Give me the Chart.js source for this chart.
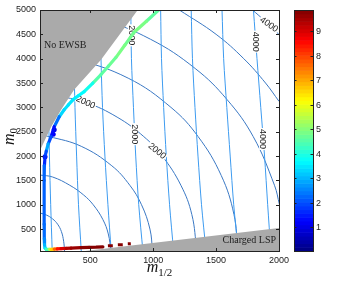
<!DOCTYPE html>
<html>
<head>
<meta charset="utf-8">
<script src="https://cdn.jsdelivr.net/npm/chart.js@4.4.1/dist/chart.umd.min.js"></script>
<style>
  html, body { margin: 0; padding: 0; background: #fff; }
  #wrap { width: 338px; height: 282px; }
</style>
</head>
<body>
<div id="wrap"><canvas id="chart" width="338" height="282"></canvas></div>
<script>
// axes
const xTicks = [500, 1000, 1500, 2000];
const yTicks = [500, 1000, 1500, 2000, 2500, 3000, 3500, 4000, 4500, 5000];
const cbTicks = [1, 2, 3, 4, 5, 6, 7, 8, 9];
const cbMin = 0.04;
const cbMax = 9.86;

// near-vertical contours (m1/2 read at each m0 level)
const gluinoM0 = [5000, 4000, 3000, 2000, 1000, 50];
const gluino500 = [160, 163, 168, 175, 185, 197];
const gluino1000 = [366, 370, 378, 391, 406, 428];
const gluino1500 = [580, 585, 597, 616, 640, 666];
const gluino2000 = [822, 827, 843, 861, 885, 918];
const gluino2500 = [1059, 1066, 1083, 1104, 1130, 1162];
const gluino3000 = [1302, 1312, 1332, 1356, 1384, 1420];
const gluino3500 = [1547, 1560, 1585, 1612, 1640, 1676];
const gluino4000 = [1797, 1825, 1855, 1885, 1910, 1935];

// arc contours
const arc500X = [100, 150, 200, 240, 270, 288, 295];
const arc500Y = [830, 790, 710, 600, 450, 250, 50];
const arc1000X = [100, 200, 337, 447, 523, 599, 643, 663];
const arc1000Y = [1610, 1570, 1400, 1200, 1000, 700, 400, 50];
const arc1500X = [100, 173, 428, 671, 814, 907, 974, 995];
const arc1500Y = [2425, 2400, 2200, 1800, 1400, 1000, 500, 50];
const arc2000X = [100, 147, 462, 713, 925, 1072, 1220, 1307, 1347];
const arc2000Y = [3290, 3280, 3100, 2800, 2400, 2000, 1400, 800, 50];
const arc2500X = [100, 367, 801, 1141, 1357, 1541, 1642, 1673];
const arc2500Y = [4093, 4000, 3600, 3000, 2400, 1600, 800, 50];
const arc3000X = [129, 586, 978, 1333, 1587, 1795, 1964, 2004];
const arc3000Y = [5000, 4800, 4400, 3800, 3160, 2400, 1400, 1000];
const arc3500X = [1208, 1500, 1720, 1893, 2000];
const arc3500Y = [5000, 4500, 4000, 3500, 3124];
const arc4000X = [1789, 1834, 1899, 2000];
const arc4000Y = [5000, 4900, 4750, 4496];

// excluded regions
const ewsbX = [100, 110, 189, 268, 371, 585, 877];
const ewsbY = [2130, 2170, 2600, 2950, 3361, 3978, 5000];
const lspX = [458, 2000];
const lspY = [50, 520];

// allowed points, colour value
const focusX = [1043, 946, 846, 775, 703, 645, 585, 520, 451, 405, 363, 325, 292, 253, 213, 189, 165, 150, 140, 135, 133, 133, 133, 134, 136, 140, 150,
  174, 189, 213, 237, 268, 308, 347, 426, 490, 545, 600];
const focusY = [5000, 4770, 4537, 4280, 4023, 3850, 3674, 3500, 3324, 3240, 3159, 3050, 2952, 2808, 2603, 2398, 2250, 2100, 1987, 1800, 1500, 1000, 600, 300, 180, 110, 85,
  85, 85, 90, 95, 100, 105, 110, 120, 126, 128, 135];
const focusV = [4.6, 4.7, 5.1, 4.5, 5.3, 4.2, 5.1, 4.0, 3.8, 3.6, 3.6, 3.4, 3.5, 3.2, 1.5, 1.2, 2.8, 3.0, 1.0, 2.3, 2.2, 2.2, 2.2, 2.4, 2.8, 3.2, 3.8,
  5.0, 6.0, 7.2, 8.2, 8.8, 9.2, 9.5, 9.7, 9.8, 9.8, 9.8];
const stauX = [640, 679, null, 719, 758, null, 798, 822];
const stauY = [157, 160, null, 177, 180, null, 198, 200];
const stauV = [9.8, 9.8, null, 9.8, 9.8, null, 9.8, 9.8];
const blobX = [140, 205, 213];
const blobY = [1987, 2450, 2540];
const blobV = [0.9, 1.2, 1.0];

const contourLabels = [
  { t: "2000", x: 462, y: 3100, a: 25 },
  { t: "2000", x: 1030, y: 2100, a: 40 },
  { t: "2000", x: 852, y: 2450, a: 90 },
  { t: "2000", x: 825, y: 4480, a: 90 },
  { t: "4000", x: 1920, y: 4700, a: 35 },
  { t: "4000", x: 1815, y: 4350, a: 90 },
  { t: "4000", x: 1870, y: 2350, a: 90 },
];

function jet(v) {
  const t = (v - cbMin) / (cbMax - cbMin);
  const c = (o) => Math.round(255 * Math.max(0, Math.min(1, 1.5 - Math.abs(4 * t - o))));
  return `rgb(${c(3)},${c(2)},${c(1)})`;
}

const pts = (xs, ys) => xs.map((x, i) => ({ x: x, y: ys[i] }));

const lightBlue = "#3d9bf0";
const darkBlue = "#3a78c4";
const datasets = [];

[gluino500, gluino1000, gluino1500, gluino2000, gluino2500, gluino3000, gluino3500, gluino4000].forEach((xs) => {
  datasets.push({ data: pts(xs, gluinoM0), borderColor: lightBlue, borderWidth: 1, pointRadius: 0, showLine: true, tension: 0.3, order: 3 });
});
[[arc500X, arc500Y], [arc1000X, arc1000Y], [arc1500X, arc1500Y], [arc2000X, arc2000Y], [arc2500X, arc2500Y],
 [arc3000X, arc3000Y], [arc3500X, arc3500Y], [arc4000X, arc4000Y]].forEach(([xs, ys]) => {
  datasets.push({ data: pts(xs, ys), borderColor: darkBlue, borderWidth: 1, pointRadius: 0, showLine: true, tension: 0.4, order: 3 });
});

datasets.push({ data: pts(ewsbX, ewsbY), borderColor: "#aaaaaa", borderWidth: 0, backgroundColor: "#aaaaaa", fill: "end", pointRadius: 0, showLine: true, order: 2 });
datasets.push({ data: pts(lspX, lspY), borderColor: "#aaaaaa", borderWidth: 0, backgroundColor: "#aaaaaa", fill: "start", pointRadius: 0, showLine: true, order: 2 });

datasets.push({
  data: pts(focusX, focusY), showLine: true, pointRadius: 0, borderWidth: 3.2, borderCapStyle: "round", borderJoinStyle: "round", order: 0,
  segment: { borderColor: (ctx) => jet((focusV[ctx.p0DataIndex] + focusV[ctx.p1DataIndex]) / 2) },
});
datasets.push({
  data: pts(stauX, stauY), showLine: true, spanGaps: false, pointRadius: 0, borderWidth: 3, borderCapStyle: "butt", order: 0,
  segment: { borderColor: (ctx) => jet(stauV[ctx.p0DataIndex]) },
});
datasets.push({
  data: pts(blobX, blobY), showLine: false, pointRadius: 2.5, borderWidth: 0, order: 0,
  pointBackgroundColor: blobV.map(jet),
});

const tickFont = '9px "Liberation Sans", Arial, sans-serif';

const decor = {
  id: "decor",
  beforeDatasetsDraw() { this._labelsDone = false; },
  beforeDatasetDraw(chart, args) {
    if (this._labelsDone || args.meta.order !== 0) return;
    this._labelsDone = true;
    const ctx = chart.ctx, xs = chart.scales.x, ys = chart.scales.y;
    ctx.save();
    ctx.font = '9px "Liberation Sans", Arial, sans-serif';
    ctx.textAlign = "center";
    ctx.textBaseline = "middle";
    contourLabels.forEach((l) => {
      ctx.save();
      ctx.translate(xs.getPixelForValue(l.x), ys.getPixelForValue(l.y));
      ctx.rotate((l.a * Math.PI) / 180);
      const w = ctx.measureText(l.t).width;
      ctx.fillStyle = "#fff";
      ctx.fillRect(-w / 2 - 1, -3.5, w + 2, 7);
      ctx.fillStyle = "#222";
      ctx.fillText(l.t, 0, 0);
      ctx.restore();
    });
    ctx.restore();
  },
  afterDraw(chart) {
    const ctx = chart.ctx, ca = chart.chartArea;
    const xs = chart.scales.x, ys = chart.scales.y, cs = chart.scales.c;
    ctx.save();
    // region names
    ctx.fillStyle = "#222";
    ctx.font = '10px "Liberation Serif", "Times New Roman", serif';
    ctx.textBaseline = "alphabetic";
    ctx.textAlign = "left";
    ctx.fillText("No EWSB", ca.left + 4, ca.top + 38);
    ctx.textAlign = "right";
    ctx.fillText("Charged LSP", ca.right - 3, ca.bottom - 8);

    // box and inward ticks
    ctx.strokeStyle = "#222";
    ctx.lineWidth = 1;
    ctx.strokeRect(Math.round(ca.left) + 0.5, Math.round(ca.top) + 0.5, Math.round(ca.right - ca.left), Math.round(ca.bottom - ca.top));
    ctx.beginPath();
    xTicks.forEach((v) => {
      const px = Math.round(xs.getPixelForValue(v)) + 0.5;
      ctx.moveTo(px, ca.bottom); ctx.lineTo(px, ca.bottom - 3);
      ctx.moveTo(px, ca.top); ctx.lineTo(px, ca.top + 3);
    });
    yTicks.forEach((v) => {
      const py = Math.round(ys.getPixelForValue(v)) + 0.5;
      ctx.moveTo(ca.left, py); ctx.lineTo(ca.left + 3, py);
      ctx.moveTo(ca.right, py); ctx.lineTo(ca.right - 3, py);
    });
    ctx.stroke();

    // axis titles
    ctx.fillStyle = "#111";
    const mFont = 'italic 16px "Liberation Serif", "Times New Roman", serif';
    const subFont = '11px "Liberation Serif", "Times New Roman", serif';
    ctx.font = mFont;
    const mw = ctx.measureText("m").width;
    ctx.font = subFont;
    const sw = ctx.measureText("1/2").width;
    let x0 = (ca.left + ca.right) / 2 - (mw + sw) / 2;
    ctx.textAlign = "left";
    ctx.font = mFont;
    ctx.fillText("m", x0, 272);
    ctx.font = subFont;
    ctx.fillText("1/2", x0 + mw, 276);

    ctx.save();
    ctx.translate(14, (ca.top + ca.bottom) / 2 + 6);
    ctx.rotate(-Math.PI / 2);
    ctx.font = mFont;
    const m0w = ctx.measureText("m").width;
    ctx.font = subFont;
    const s0w = ctx.measureText("0").width;
    ctx.font = mFont;
    ctx.fillText("m", -(m0w + s0w) / 2, 0);
    ctx.font = subFont;
    ctx.fillText("0", -(m0w + s0w) / 2 + m0w, 3);
    ctx.restore();

    // colour bar
    const bx = ca.right + 15, bw = 19;
    const n = 64;
    for (let k = 0; k < n; k++) {
      const v0 = cbMin + (k * (cbMax - cbMin)) / n;
      const v1 = cbMin + ((k + 1) * (cbMax - cbMin)) / n;
      const p0 = cs.getPixelForValue(v0), p1 = cs.getPixelForValue(v1);
      ctx.fillStyle = jet((v0 + v1) / 2);
      ctx.fillRect(bx, p1, bw, p0 - p1 + 0.6);
    }
    ctx.strokeStyle = "#222";
    ctx.strokeRect(bx + 0.5, Math.round(cs.top) + 0.5, bw, Math.round(cs.bottom - cs.top));
    ctx.beginPath();
    ctx.font = tickFont;
    ctx.fillStyle = "#222";
    ctx.textAlign = "left";
    ctx.textBaseline = "middle";
    cbTicks.forEach((v) => {
      const py = Math.round(cs.getPixelForValue(v)) + 0.5;
      ctx.moveTo(bx, py); ctx.lineTo(bx + 2.5, py);
      ctx.moveTo(bx + bw, py); ctx.lineTo(bx + bw - 2.5, py);
      ctx.fillText(String(v), bx + bw + 3, py);
    });
    ctx.stroke();
    ctx.restore();
  },
};

const tickOpts = { font: { family: '"Liberation Sans", Arial, sans-serif', size: 9 }, color: "#222", padding: 4, maxRotation: 0, callback: (v) => String(v) };

new Chart(document.getElementById("chart"), {
  type: "scatter",
  data: { datasets: datasets },
  options: {
    responsive: false,
    animation: false,
    devicePixelRatio: 1,
    layout: { padding: { left: 0, top: 10, right: 59, bottom: 0 } },
    plugins: { legend: { display: false }, tooltip: { enabled: false } },
    scales: {
      x: {
        type: "linear", min: 100, max: 2000,
        grid: { display: false, drawTicks: false }, border: { display: false },
        afterBuildTicks: (s) => { s.ticks = xTicks.map((v) => ({ value: v })); },
        afterFit: (s) => { s.height = 31; },
        ticks: tickOpts,
      },
      y: {
        type: "linear", min: 50, max: 5000,
        grid: { display: false, drawTicks: false }, border: { display: false },
        afterBuildTicks: (s) => { s.ticks = yTicks.map((v) => ({ value: v })); },
        afterFit: (s) => { s.width = 40; },
        ticks: tickOpts,
      },
      c: { type: "linear", position: "right", display: false, min: cbMin, max: cbMax },
    },
  },
  plugins: [decor],
});
</script>
</body>
</html>
